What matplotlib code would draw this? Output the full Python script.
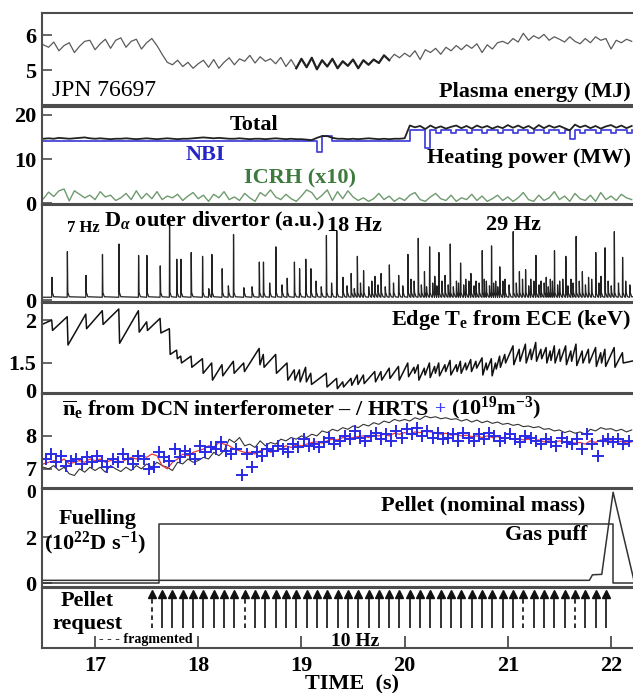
import numpy as np
import matplotlib
matplotlib.use("Agg")
import matplotlib.pyplot as plt

plt.rcParams["font.family"] = ["Liberation Serif", "DejaVu Serif"]
plt.rcParams["font.weight"] = "bold"
plt.rcParams["mathtext.fontset"] = "custom"
plt.rcParams["mathtext.rm"] = "Liberation Serif:bold"
plt.rcParams["mathtext.it"] = "Liberation Serif:bold:italic"
plt.rcParams["mathtext.bf"] = "Liberation Serif:bold"
plt.rcParams["axes.unicode_minus"] = False

# ── common time grid for the sampled traces (s) ─────────────────────────────
t = np.linspace(16.50, 22.20, 115)

# ── plasma energy (MJ) ──────────────────────────────────────────────────────
energy = [
    5.72, 5.65, 5.80, 5.55, 5.70, 5.78, 5.50, 5.68, 5.82, 5.85,
    5.58, 5.75, 5.88, 5.62, 5.85, 5.92, 5.65, 5.82, 5.88, 5.60,
    5.78, 5.90, 5.70, 5.45, 5.22, 5.15, 5.28, 5.10, 5.22, 5.05,
    5.18, 5.28, 5.08, 5.30, 5.05, 5.22, 5.35, 5.15, 5.32, 5.25,
    5.42, 5.20, 5.38, 5.25, 5.32, 5.18, 5.36, 5.10, 5.30, 5.05,
    5.32, 5.08, 5.35, 5.02, 5.28, 5.10, 5.32, 5.05, 5.25, 5.12,
    5.30, 5.05, 5.28, 5.15, 5.30, 5.20, 5.42, 5.28, 5.45, 5.35,
    5.48, 5.38, 5.55, 5.30, 5.58, 5.50, 5.62, 5.45, 5.65, 5.55,
    5.70, 5.58, 5.72, 5.62, 5.75, 5.50, 5.72, 5.60, 5.78, 5.82,
    5.75, 5.90, 5.80, 6.05, 5.85, 5.98, 5.90, 6.02, 5.85, 5.95,
    5.88, 5.80, 5.95, 5.82, 5.75, 5.90, 5.78, 5.95, 5.85, 5.90,
    5.60, 5.85, 5.78, 5.88, 5.82,
]

# ── heating power (MW) ──────────────────────────────────────────────────────
p_total = [
    14.6, 14.7, 14.6, 14.8, 14.7, 14.6, 14.7, 14.8, 14.9, 14.7,
    14.6, 14.7, 14.6, 14.5, 14.6, 14.6, 14.7, 14.6, 14.5, 14.6,
    14.7, 14.6, 14.5, 14.6, 14.7, 14.6, 14.5, 14.6, 14.6, 14.7,
    14.8, 14.9, 14.8, 14.7, 14.8, 14.7, 14.6, 14.6, 14.7, 14.6,
    14.5, 14.6, 14.6, 14.5, 14.6, 14.7, 14.6, 14.5, 14.6, 14.5,
    14.5, 14.4, 14.3, 14.8, 15.2, 15.2, 14.8, 14.6, 14.6, 14.5,
    14.6, 14.5, 14.6, 14.7, 14.6, 14.5, 14.6, 14.5, 14.6, 14.6,
    14.7, 17.6, 17.2, 17.5, 16.8, 17.6, 17.0, 17.4, 16.9, 17.3,
    17.6, 17.0, 17.5, 16.9, 17.6, 17.1, 17.5, 16.9, 17.4, 17.0,
    17.7, 17.1, 17.6, 17.0, 17.5, 16.8, 17.7, 17.0, 17.6, 17.1,
    17.5, 17.0, 16.5, 17.8, 17.2, 17.6, 17.0, 17.5, 16.9, 17.4,
    17.7, 17.1, 17.6, 17.0, 17.5,
]
p_nbi = [14.0] * 50 + [
    14.0, 14.0, 14.0, 11.5, 15.2, 15.2, 14.0, 14.0, 14.0, 14.0,
    14.0, 14.0, 14.0, 14.0, 14.0, 14.0, 14.0, 14.0, 14.0, 14.0,
    14.0, 16.6, 16.6, 16.6, 12.5, 16.6, 15.8, 16.6, 16.6, 15.8,
    16.6, 16.6, 15.8, 16.6, 16.6, 15.8, 16.6, 16.6, 15.8, 16.6,
    16.6, 15.8, 16.6, 16.6, 15.8, 16.6, 16.6, 15.8, 16.6, 16.6,
    15.8, 16.6, 14.5, 16.6, 15.8, 16.6, 16.6, 15.8, 16.6, 16.6,
    15.8, 16.6, 16.6, 15.8, 16.6,
]
p_icrh10 = [
    1.0, 2.5, 1.5, 2.8, 3.2, 0.5, 2.8, 2.0, 1.2, 1.8,
    0.8, 2.6, 1.4, 1.8, 0.6, 1.2, 2.2, 0.8, 2.8, 1.0,
    2.2, 1.0, 2.6, 0.8, 1.6, 1.2, 2.0, 0.6, 1.6, 2.4,
    1.0, 1.8, 0.4, 2.0, 1.2, 2.6, 0.8, 1.4, 0.6, 2.2,
    1.2, 0.4, 2.4, 1.6, 3.0, 1.4, 0.8, 2.0, 1.0, 0.4,
    1.6, 3.0, 2.4, 0.8, 1.8, 3.0, 0.6, 2.6, 1.0, 2.8,
    1.4, 0.6, 1.2, 0.4, 1.0, 2.2, 0.8, 1.6, 0.4, 1.2,
    0.6, 1.8, 2.4, 0.8, 0.4, 1.4, 2.2, 1.0, 0.6, 1.8,
    0.4, 1.2, 0.8, 2.0, 0.6, 1.6, 0.4, 1.0, 1.8, 0.6,
    1.4, 0.4, 1.2, 2.4, 0.8, 0.4, 1.8, 0.6, 1.2, 2.6,
    0.8, 1.6, 0.4, 2.2, 1.0, 0.6, 1.8, 0.4, 2.4, 0.8,
    1.6, 0.6, 2.0, 1.2, 0.8,
]

# ── ELMs: D-alpha spike times / heights (a.u.) and edge Te before/after (keV)
elm_t = [
    16.58, 16.73, 16.91, 17.07, 17.23, 17.42, 17.50, 17.63, 17.72, 17.79,
    17.83, 17.93, 18.04, 18.13, 18.23, 18.34, 18.44, 18.59, 18.63, 18.75,
    18.86, 18.93, 18.98, 19.04, 19.09, 19.24, 19.34, 19.40, 19.48, 19.54,
    19.60, 19.71, 19.77, 19.85, 19.94, 20.03, 20.09, 20.13, 20.19, 20.24,
    20.29, 20.33, 20.39, 20.44, 20.50, 20.54, 20.59, 20.64, 20.69, 20.75,
    20.79, 20.84, 20.88, 20.92, 20.97, 21.05, 21.11, 21.17, 21.22, 21.27,
    21.32, 21.37, 21.41, 21.45, 21.50, 21.56, 21.61, 21.66, 21.72, 21.78,
    21.85, 21.90, 21.94, 22.03, 22.11,
]
elm_h = [
    0.24, 0.51, 0.26, 0.48, 0.59, 0.47, 0.47, 0.36, 0.86, 0.43,
    0.43, 0.50, 0.46, 0.48, 0.33, 0.69, 0.13, 0.40, 0.40, 0.56,
    0.23, 0.40, 0.33, 0.43, 0.33, 0.68, 0.73, 0.24, 0.28, 0.46,
    0.31, 0.25, 0.28, 0.37, 0.26, 0.48, 0.20, 0.65, 0.30, 0.56,
    0.25, 0.50, 0.26, 0.59, 0.20, 0.39, 0.22, 0.28, 0.20, 0.52,
    0.20, 0.57, 0.20, 0.35, 0.22, 0.72, 0.30, 0.32, 0.22, 0.47,
    0.20, 0.24, 0.22, 0.52, 0.20, 0.46, 0.22, 0.67, 0.30, 0.24,
    0.50, 0.25, 0.55, 0.72, 0.45,
]
small_t = [
    18.10, 18.29, 18.52, 18.69, 18.81, 19.14, 19.19, 19.29, 19.44, 19.51,
    19.57, 19.65, 19.68, 19.74, 19.81, 19.89, 19.98, 20.06, 20.16, 20.21,
    20.27, 20.31, 20.36, 20.42, 20.47, 20.52, 20.57, 20.62, 20.67, 20.72,
    20.77, 20.82, 20.86, 20.90, 20.95, 21.01, 21.08, 21.14, 21.20, 21.25,
    21.30, 21.35, 21.39, 21.43, 21.48, 21.53, 21.58, 21.63, 21.69, 21.75,
    21.81, 21.88, 21.97, 22.00, 22.07, 22.14, 22.18,
]
small_h = [
    0.12, 0.15, 0.14, 0.18, 0.16, 0.20, 0.14, 0.18, 0.15, 0.12,
    0.18, 0.14, 0.20, 0.16, 0.14, 0.18, 0.15, 0.22, 0.16, 0.14,
    0.18, 0.15, 0.20, 0.16, 0.14, 0.18, 0.16, 0.20, 0.15, 0.18,
    0.22, 0.15, 0.18, 0.14, 0.20, 0.16, 0.18, 0.22, 0.15, 0.20,
    0.16, 0.18, 0.14, 0.20, 0.16, 0.22, 0.15, 0.18, 0.20, 0.16,
    0.22, 0.18, 0.20, 0.15, 0.18, 0.20, 0.16,
]
te_pre = [
    2.00, 2.04, 2.07, 2.11, 2.13, 2.11, 1.98, 2.02, 1.90, 1.65,
    1.58, 1.58, 1.55, 1.50, 1.48, 1.52, 1.50, 1.67, 1.60, 1.60,
    1.50, 1.42, 1.42, 1.45, 1.38, 1.38, 1.32, 1.28, 1.32, 1.36,
    1.36, 1.40, 1.40, 1.44, 1.46, 1.50, 1.45, 1.48, 1.44, 1.50,
    1.46, 1.50, 1.48, 1.53, 1.48, 1.52, 1.50, 1.54, 1.52, 1.56,
    1.50, 1.55, 1.50, 1.58, 1.60, 1.70, 1.66, 1.72, 1.66, 1.74,
    1.66, 1.68, 1.64, 1.70, 1.66, 1.70, 1.64, 1.72, 1.64, 1.66,
    1.68, 1.62, 1.66, 1.68, 1.62,
]
te_post = [
    1.88, 1.71, 1.90, 1.95, 1.73, 1.86, 1.88, 1.85, 1.60, 1.55,
    1.50, 1.45, 1.38, 1.30, 1.35, 1.38, 1.40, 1.48, 1.45, 1.38,
    1.30, 1.30, 1.28, 1.28, 1.25, 1.22, 1.20, 1.22, 1.24, 1.25,
    1.26, 1.28, 1.30, 1.32, 1.30, 1.34, 1.38, 1.30, 1.36, 1.33,
    1.38, 1.35, 1.40, 1.36, 1.40, 1.38, 1.42, 1.40, 1.44, 1.36,
    1.42, 1.35, 1.43, 1.45, 1.50, 1.48, 1.52, 1.50, 1.54, 1.52,
    1.55, 1.50, 1.53, 1.50, 1.52, 1.48, 1.52, 1.47, 1.50, 1.50,
    1.46, 1.50, 1.46, 1.45, 1.50,
]
te_start, te_end = 1.95, 1.60

# ── line-averaged density (1e19 m^-3) ───────────────────────────────────────
ne_dcn = [
    7.05, 7.00, 7.10, 6.95, 7.05, 6.85, 6.80, 7.00, 6.90, 7.05,
    6.95, 7.05, 6.90, 7.10, 7.00, 6.92, 7.05, 6.95, 7.10, 7.00,
    7.15, 7.05, 7.20, 7.10, 7.05, 6.95, 7.20, 7.15, 7.30, 7.20,
    7.25, 7.35, 7.30, 7.50, 7.40, 7.55, 7.90, 7.80, 7.95, 7.70,
    7.75, 7.65, 7.85, 7.70, 7.80, 7.75, 7.90, 7.85, 7.95, 7.90,
    8.00, 7.95, 8.05, 8.00, 8.15, 8.10, 8.20, 8.15, 8.25, 8.20,
    8.30, 8.25, 8.35, 8.30, 8.40, 8.35, 8.45, 8.40, 8.50, 8.45,
    8.50, 8.45, 8.55, 8.50, 8.60, 8.55, 8.58, 8.52, 8.55, 8.50,
    8.52, 8.45, 8.50, 8.42, 8.48, 8.40, 8.45, 8.38, 8.42, 8.35,
    8.38, 8.32, 8.35, 8.28, 8.30, 8.25, 8.28, 8.20, 8.22, 8.15,
    8.18, 8.10, 8.15, 8.08, 8.12, 8.05, 8.20, 8.15, 8.25, 8.20,
    8.22, 8.15, 8.20, 8.12, 8.18,
]
ne_red = [
    7.15, 7.20, 7.25, 7.20, 7.30, 7.15, 7.20, 7.25, 7.20, 7.30,
    7.25, 7.30, 7.20, 7.25, 7.30, 7.20, 7.28, 7.35, 7.30, 7.40,
    7.35, 7.45, 7.40, 7.10, 7.00, 7.20, 7.30, 7.45, 7.40, 7.50,
    7.55, 7.60, 7.70, 7.65, 7.80, 7.75, 7.70, 7.60, 7.55, 7.50,
    7.50, 7.45, 7.55, 7.60, 7.50, 7.55, 7.60, 7.70, 7.65, 7.72,
    7.70, 7.75, 7.80, 7.82, 7.78, 7.85, 7.90, 7.88, 7.95, 7.92,
    7.95, 7.98, 8.00, 7.95, 8.02, 8.00, 8.05, 8.00, 8.08, 8.05,
    8.10, 8.05, 8.12, 8.10, 8.15, 8.12, 8.10, 8.05, 8.08, 8.02,
    8.05, 8.00, 8.02, 7.98, 8.00, 7.95, 8.00, 7.95, 7.98, 7.92,
    7.95, 7.90, 7.92, 7.88, 7.90, 7.85, 7.88, 7.82, 7.85, 7.80,
    7.85, 7.80, 7.82, 7.78, 7.80, 7.75, 7.85, 7.80, 7.88, 7.82,
    7.85, 7.80, 7.84, 7.78, 7.82,
]
hrts_t = np.linspace(16.52, 22.17, 114)
hrts_ne = [
    7.30, 7.45, 7.20, 7.40, 7.10, 7.25, 7.30, 7.15, 7.35, 7.20,
    7.40, 7.25, 7.05, 7.30, 7.20, 7.45, 7.30, 7.15, 7.40, 7.30,
    7.00, 7.05, 7.50, 7.35, 7.25, 7.60, 7.35, 7.55, 7.45, 7.30,
    7.70, 7.50, 7.65, 7.60, 7.80, 7.55, 7.45, 7.60, 6.80, 7.45,
    7.05, 7.50, 7.40, 7.60, 7.55, 7.70, 7.60, 7.50, 7.75, 7.65,
    7.90, 7.70, 7.75, 7.65, 7.80, 7.95, 7.75, 7.85, 8.00, 7.90,
    8.15, 7.95, 7.85, 8.00, 8.10, 7.90, 8.05, 7.85, 8.15, 7.95,
    8.20, 8.05, 8.25, 8.00, 8.15, 7.95, 8.10, 7.90, 7.95, 8.05,
    7.85, 8.10, 7.95, 7.85, 8.05, 7.90, 8.10, 8.00, 7.85, 7.95,
    8.05, 7.90, 7.80, 8.00, 7.95, 7.85, 7.75, 7.90, 7.80, 7.70,
    7.95, 7.80, 7.75, 7.90, 7.60, 8.05, 7.75, 7.40, 7.85, 7.90,
    7.80, 7.90, 7.75, 7.85,
]

# ── fuelling (1e22 D/s) ─────────────────────────────────────────────────────
pellet_fuel_t = [16.40, 17.62, 17.62, 22.02, 22.02, 22.50]
pellet_fuel_v = [0.0, 0.0, 2.55, 2.55, 0.0, 0.0]
gas_t = [16.40, 21.79, 21.82, 21.91, 22.02, 22.22]
gas_v = [0.12, 0.12, 0.36, 0.38, 3.95, 0.15]

# ── pellet requests (s) ─────────────────────────────────────────────────────
pellet_req = [
    17.55, 17.65, 17.75, 17.85, 17.95, 18.05, 18.15, 18.25, 18.35, 18.45,
    18.55, 18.65, 18.75, 18.85, 18.95, 19.05, 19.15, 19.25, 19.35, 19.45,
    19.55, 19.65, 19.75, 19.85, 19.95, 20.05, 20.15, 20.25, 20.35, 20.45,
    20.55, 20.65, 20.75, 20.85, 20.95, 21.05, 21.15, 21.25, 21.35, 21.45,
    21.55, 21.65, 21.75, 21.85, 21.95,
]
fragmented = [17.55, 18.45, 21.15, 21.65]
time_ticks = [17, 18, 19, 20, 21, 22]

# ── layout (pixels of the 633x693 picture) ──────────────────────────────────
W, H = 633, 693
X0, PXS, T0 = 42, 103.2, 16.486
T1 = T0 + (W + 30 - X0) / PXS
SPINE = "#4d4d4d"

fig = plt.figure(figsize=(W / 100, H / 100), dpi=100)


def panel(top, bot):
    ax = fig.add_axes([X0 / W, 1 - bot / H, (T1 - T0) * PXS / W, (bot - top) / H])
    ax.set_xlim(T0, T1)
    for s in ax.spines.values():
        s.set_color(SPINE)
        s.set_linewidth(1.5)
    ax.tick_params(axis="x", bottom=False, labelbottom=False)
    ax.tick_params(axis="y", direction="in", length=7, width=1.2, color=SPINE,
                   labelsize=16, pad=4)
    return ax


def ftxt(x, y, s, **kw):
    kw.setdefault("fontsize", 16)
    kw.setdefault("va", "center")
    return fig.text(x / W, 1 - y / H, s, **kw)


# panel 1: plasma energy
ax1 = panel(13, 105)
ax1.plot(t, energy, color="#5a5a5a", lw=0.9)
seg = (t > 18.93) & (t < 19.87)
ax1.plot(t[seg], np.array(energy)[seg], color="#222222", lw=1.6)
ax1.set_ylim(4.0, 6.63)
ax1.set_yticks([5, 6])
ftxt(52, 90, "JPN 76697", ha="left", fontsize=17, fontweight="normal")
ftxt(631, 92, "Plasma energy (MJ)", ha="right")

# panel 2: heating power
ax2 = panel(107, 204)
ax2.plot(t, p_icrh10, color="#6f9a6f", lw=1.0)
ax2.plot(t, p_nbi, color="#4545dd", lw=1.3, drawstyle="steps-post")
ax2.plot(t, p_total, color="#222222", lw=1.3)
ax2.set_ylim(-0.2, 21.8)
ax2.set_yticks([0, 10, 20])
ftxt(254, 125, "Total", ha="center")
ftxt(205, 155, "NBI", ha="center", color="#2626c8")
ftxt(631, 158, "Heating power (MW)", ha="right")
ftxt(300, 178, "ICRH (x10)", ha="center", color="#3d7a3d")

# panel 3: D-alpha, each spike with a short decay tail
spikes = sorted(zip(elm_t + small_t, elm_h + small_h))
da_x, da_y = [T0], [0.03]
for tc, h in spikes:
    da_x += [tc, tc + 0.002, tc + 0.006, tc + 0.02]
    da_y += [0.03, h, 0.08, 0.035]
da_x.append(T1)
da_y.append(0.03)
ax3 = panel(205, 302)
ax3.plot(da_x, da_y, color="#222222", lw=0.9)
ax3.set_ylim(-0.02, 1.0)
ax3.set_yticks([0])
ftxt(83, 228, "7 Hz", ha="center", fontsize=12)
ftxt(104, 221, r"D$_{\alpha}$ outer divertor (a.u.)", ha="left")
ftxt(354, 226, "18 Hz", ha="center")
ftxt(513, 225, "29 Hz", ha="center")

# panel 4: edge Te (sawtooth built from the ELM crash values)
te_x, te_y = [T0], [te_start]
for tc, a, b in zip(elm_t, te_pre, te_post):
    te_x += [tc, tc + 0.008]
    te_y += [a, b]
te_x.append(T1)
te_y.append(te_end)
ax4 = panel(303, 393)
ax4.plot(te_x, te_y, color="#111111", lw=1.1)
ax4.set_ylim(1.15, 2.2)
ax4.set_yticks([1.5, 2])
ax4.set_yticklabels(["1.5", "2"])
ftxt(36, 393, "0", ha="right")
ftxt(631, 320, r"Edge T$_{\mathrm{e}}$ from ECE (keV)", ha="right")

# panel 5: density
ax5 = panel(394, 488)
ax5.plot(t, ne_dcn, color="#333333", lw=0.8)
ax5.plot(t, ne_red, color="#e8383a", lw=0.9)
ax5.plot(hrts_t, hrts_ne, ls="none", marker="+", ms=8, mew=1.4, color="#2a2ae6")
ax5.set_ylim(6.42, 9.27)
ax5.set_yticks([7, 8])
ax5.set_yticklabels(["7", "8"])
ftxt(36, 494, "0", ha="right", fontsize=14)
n1 = ftxt(62, 410, r"$\overline{\mathrm{n}}_{\mathrm{e}}$ from DCN interferometer – / HRTS",
          ha="left")
n2 = ax5.annotate("+", xy=(1, 0.5), xycoords=n1, xytext=(4, 0),
                  textcoords="offset points", ha="left", va="center",
                  fontsize=14, color="#3a3aff")
ax5.annotate(r"(10$^{19}$m$^{-3}$)", xy=(1, 0.5), xycoords=n2, xytext=(4, 1),
             textcoords="offset points", ha="left", va="center", fontsize=16)

# panel 6: fuelling
ax6 = panel(489, 587)
ax6.plot(pellet_fuel_t, pellet_fuel_v, color="#333333", lw=1.1)
ax6.plot(gas_t, gas_v, color="#333333", lw=1.1)
ax6.set_ylim(-0.17, 4.09)
ax6.set_yticks([0, 2])
ftxt(585, 505, "Pellet (nominal mass)", ha="right")
ftxt(587, 535, "Gas puff", ha="right")
ftxt(98, 519, "Fuelling", ha="center")
ftxt(95, 543, r"(10$^{22}$D s$^{-1}$)", ha="center")

# panel 7: pellet requests
ax7 = panel(588, 648)
ax7.set_ylim(0, 1)
ax7.set_yticks([])
solid = [p for p in pellet_req if p not in fragmented]
ax7.vlines(solid, 0.33, 0.86, color="#222222", lw=1.3)
ax7.vlines(fragmented, 0.33, 0.86, color="#222222", lw=1.3, linestyles=(0, (2.5, 2.0)))
ax7.plot(pellet_req, [0.9] * len(pellet_req), ls="none", marker="^", ms=6,
         color="#111111")
ax7.set_xticks(time_ticks)
ax7.tick_params(axis="x", bottom=True, labelbottom=True, direction="in",
                length=9, width=1.3, color=SPINE, labelsize=16, pad=6)
ftxt(87, 601, "Pellet", ha="center")
ftxt(88, 624, "request", ha="center")
ftxt(146, 640, "- - - fragmented", ha="center", fontsize=10)
ftxt(355, 642, "10 Hz", ha="center", fontsize=14)
ftxt(352, 684, "TIME  (s)", ha="center")

fig.savefig("out.png", dpi=100)
